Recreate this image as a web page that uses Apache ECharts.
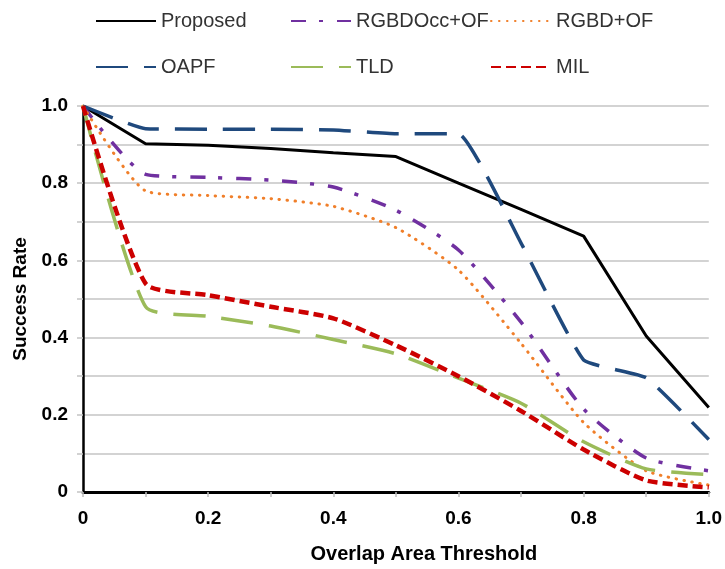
<!DOCTYPE html>
<html>
<head>
<meta charset="utf-8">
<script src="https://cdn.jsdelivr.net/npm/echarts@6/dist/echarts.min.js"></script>
<style>html,body{margin:0;padding:0;background:#fff}#c{width:725px;height:569px}</style>
</head>
<body>
<div id="c"></div>
<script>
const thresholds = [0, 0.1, 0.2, 0.3, 0.4, 0.5, 0.6, 0.7, 0.8, 0.9, 1.0];
const proposed  = [1.0, 0.902, 0.898, 0.890, 0.879, 0.869, 0.800, 0.732, 0.663, 0.404, 0.219];
const rgbdOccOf = [1.0, 0.823, 0.815, 0.808, 0.790, 0.730, 0.627, 0.440, 0.215, 0.088, 0.055];
const rgbdOf    = [1.0, 0.780, 0.768, 0.760, 0.740, 0.685, 0.575, 0.385, 0.180, 0.055, 0.018];
const oapf      = [1.0, 0.941, 0.940, 0.940, 0.938, 0.928, 0.928, 0.645, 0.342, 0.296, 0.136];
const tld       = [1.0, 0.480, 0.455, 0.430, 0.395, 0.358, 0.295, 0.230, 0.130, 0.060, 0.045];
const mil       = [1.0, 0.540, 0.510, 0.480, 0.450, 0.380, 0.300, 0.210, 0.110, 0.030, 0.012];
const seriesNames = ['Proposed', 'RGBDOcc+OF', 'RGBD+OF', 'OAPF', 'TLD', 'MIL'];
const xTitle = 'Overlap Area Threshold';
const yTitle = 'Success Rate';

const pair = arr => thresholds.map((t, i) => [t, arr[i]]);
const styles = [
  {color:'#000000', width:3, type:'solid', smooth:false},
  {color:'#7030A0', width:3.5, type:[15,13,4,14], smooth:0.2},
  {color:'#F07F2A', width:3, type:[0.5,7.5], cap:'round', smooth:0.2},
  {color:'#1F497D', width:3.5, type:[32,16], smooth:0.12},
  {color:'#9BBB59', width:3.5, type:[32,16], smooth:0.2},
  {color:'#CC0000', width:4.5, type:[10,5], smooth:0.2}
];
const dataSets = [proposed, rgbdOccOf, rgbdOf, oapf, tld, mil];

const series = seriesNames.map((n, i) => ({
  name: n, type: 'line', data: pair(dataSets[i]), symbol: 'none', showSymbol: false,
  smooth: styles[i].smooth,
  color: styles[i].color,
  lineStyle: {color: styles[i].color, width: styles[i].width, type: styles[i].type, cap: styles[i].cap || 'butt'}
}));

const legendPos = [[95,21],[290,21],[490,21],[95,67],[290,67],[490,67]];
const legends = seriesNames.map((n, i) => ({
  data: [n], left: legendPos[i][0], top: legendPos[i][1] - 12, padding: 0,
  itemWidth: 60, itemHeight: 14, itemGap: 0,
  itemStyle: {opacity: 0},
  textStyle: {fontFamily: '"Liberation Sans", Arial, sans-serif', fontSize: 20, color: '#333333', lineHeight: 24}
}));

const fmt = v => {
  const k = Math.round(v * 10);
  if (k % 2 !== 0) return '';
  return k === 0 ? '0' : (k / 10).toFixed(1);
};

const chart = echarts.init(document.getElementById('c'), null, {renderer: 'canvas'});
chart.setOption({
  animation: false,
  backgroundColor: '#ffffff',
  legend: legends,
  grid: {left: 83, right: 13, top: 106, bottom: 74},
  xAxis: {
    type: 'value', min: 0, max: 1, interval: 0.1,
    name: xTitle, nameLocation: 'middle', nameGap: 52,
    nameTextStyle: {fontFamily: '"Liberation Sans", Arial, sans-serif', fontWeight: 'bold', fontSize: 20, color: '#000', padding: [0,0,0,56]},
    axisLine: {lineStyle: {color: '#000', width: 3}},
    axisTick: {show: true, length: 5, lineStyle: {color: '#bdbdbd', width: 1.5}},
    axisLabel: {formatter: fmt, margin: 17, fontFamily: '"Liberation Sans", Arial, sans-serif', fontWeight: 'bold', fontSize: 19, color: '#000'},
    splitLine: {show: false}
  },
  yAxis: {
    type: 'value', min: 0, max: 1, interval: 0.1,
    name: yTitle, nameLocation: 'middle', nameGap: 52,
    nameTextStyle: {fontFamily: '"Liberation Sans", Arial, sans-serif', fontWeight: 'bold', fontSize: 19, color: '#000'},
    axisLine: {show: true, lineStyle: {color: '#000', width: 2.5}},
    axisTick: {show: true, length: 6, lineStyle: {color: '#c4c4c4', width: 1.5}},
    axisLabel: {formatter: fmt, margin: 15, fontFamily: '"Liberation Sans", Arial, sans-serif', fontWeight: 'bold', fontSize: 19, color: '#000'},
    splitLine: {show: true, lineStyle: {color: '#c4c4c4', width: 1.5}}
  },
  series: series
});
</script>
</body>
</html>
